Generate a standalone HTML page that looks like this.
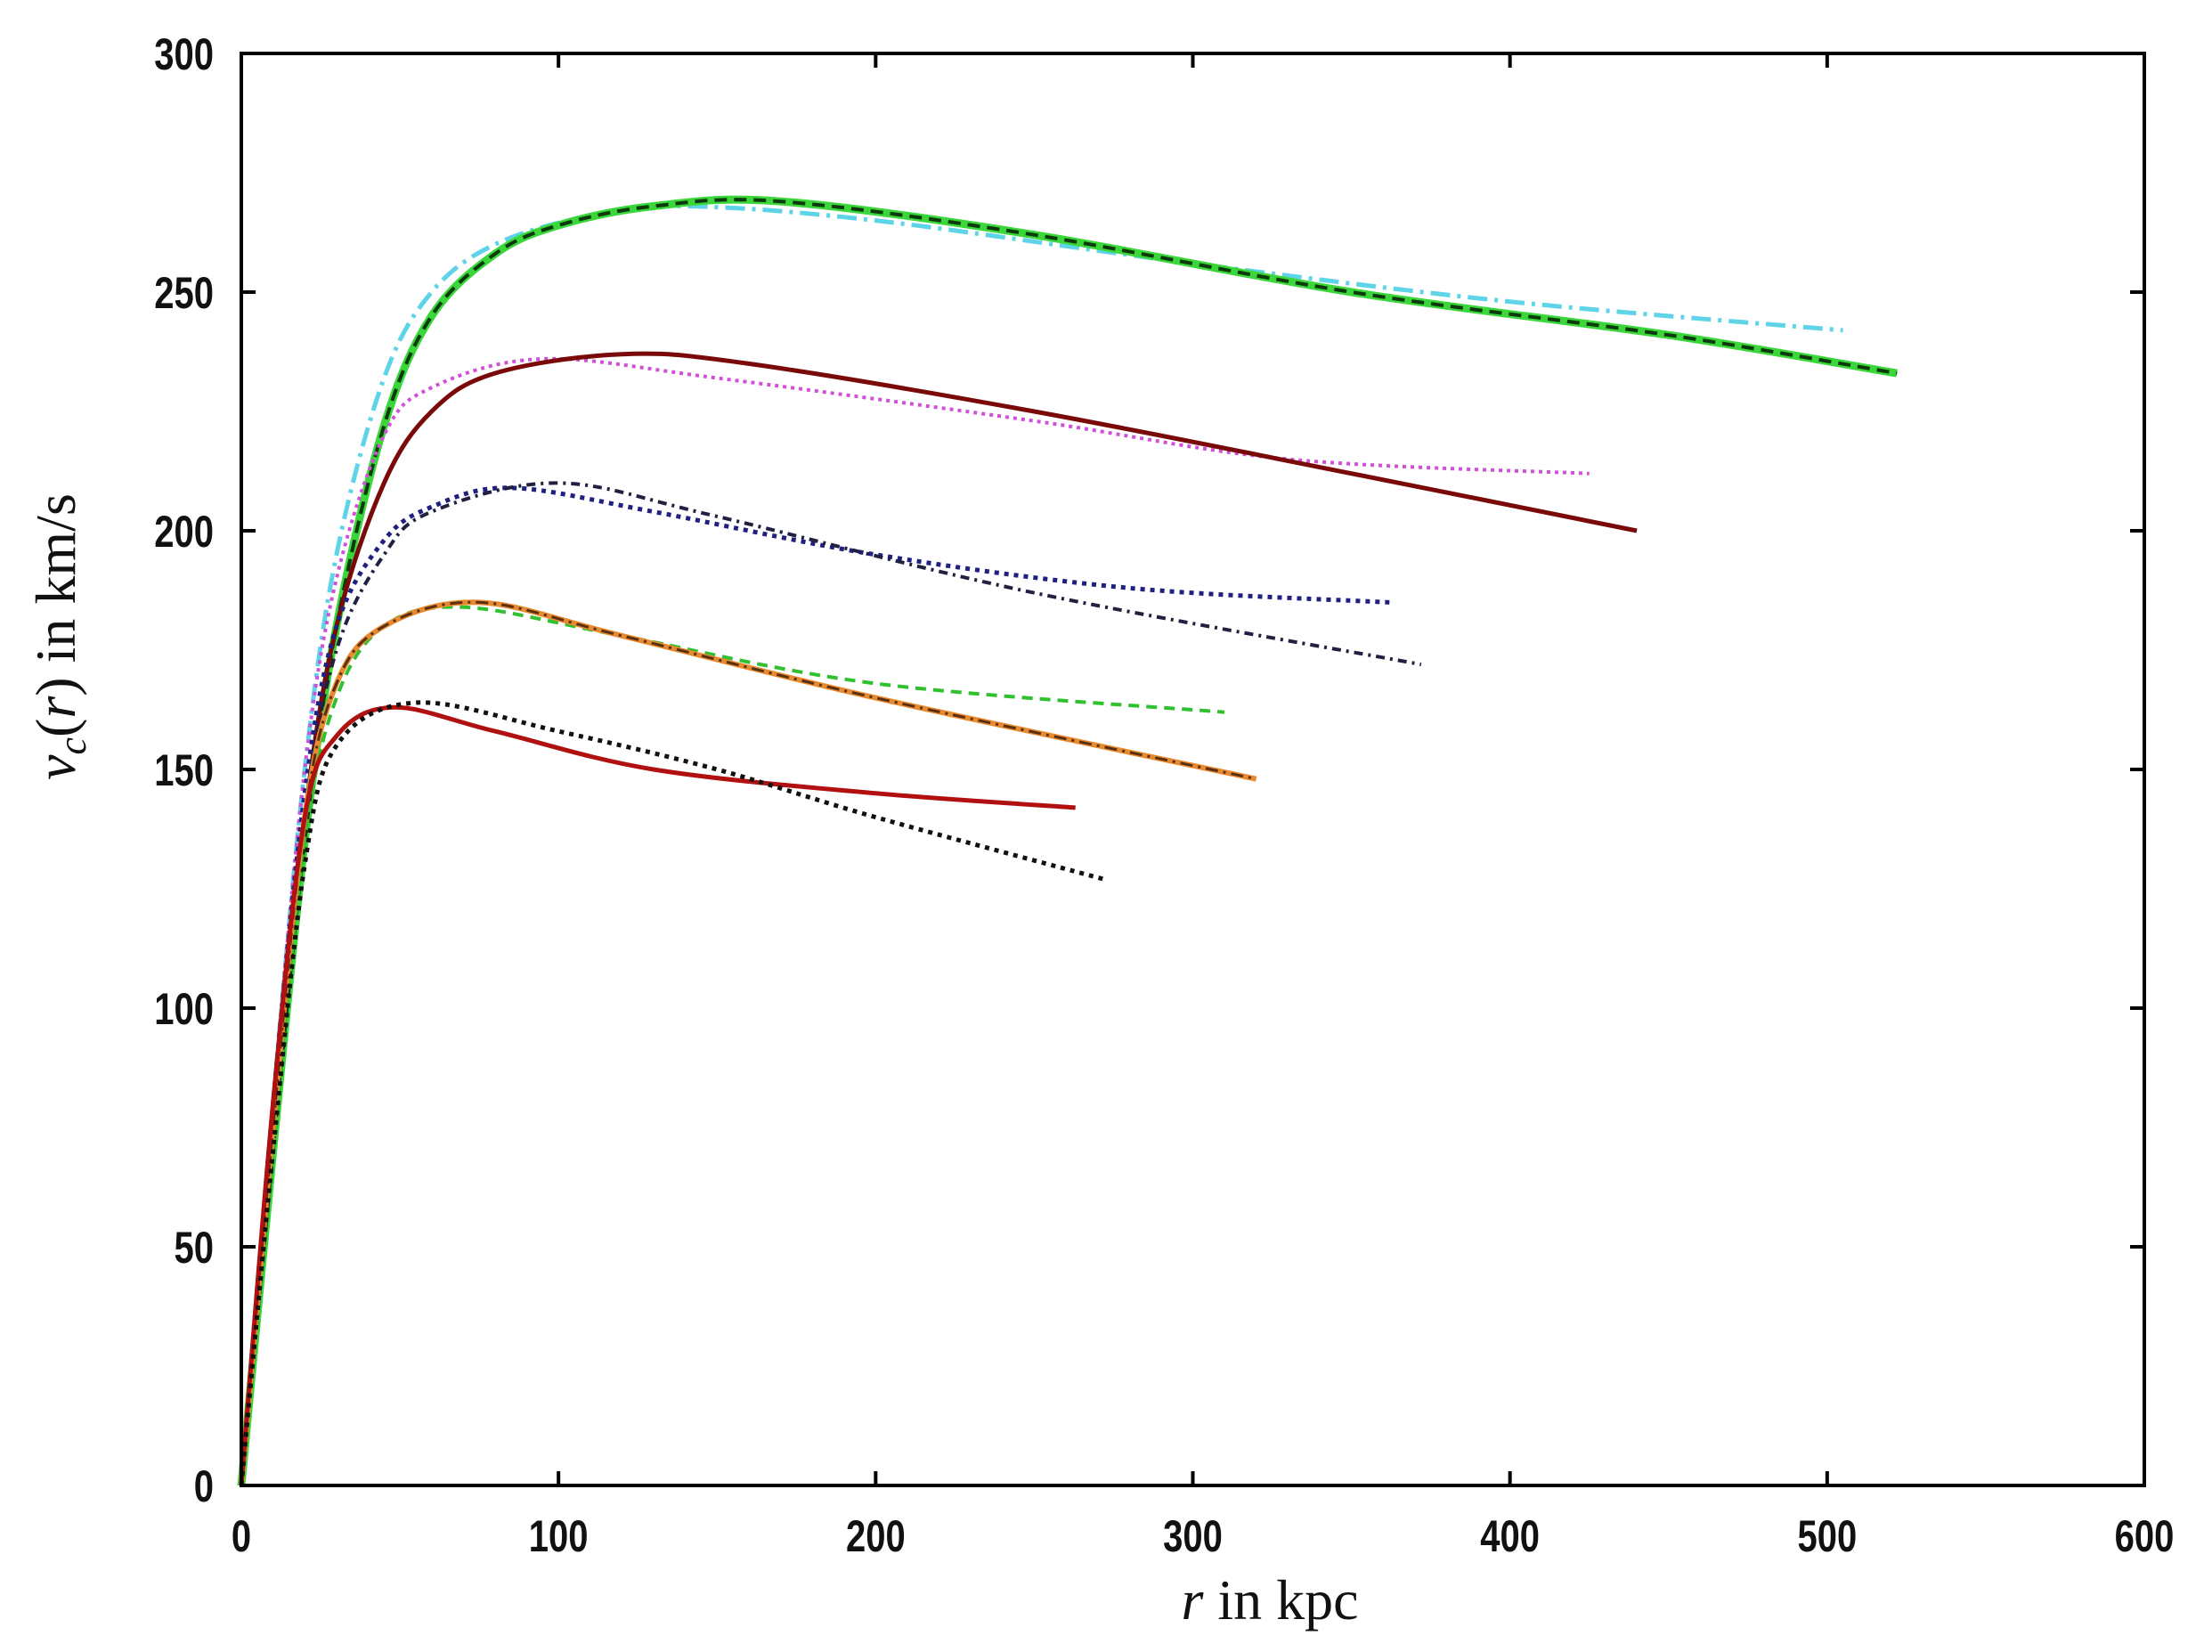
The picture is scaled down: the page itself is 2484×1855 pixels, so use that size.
<!DOCTYPE html>
<html><head><meta charset="utf-8"><style>
html,body{margin:0;padding:0;background:#fff;}
svg{display:block;}
.t{font-family:"Liberation Sans",sans-serif;font-size:50px;font-weight:bold;fill:#111;}
</style></head><body>
<svg id="s" width="2484" height="1855" viewBox="0 0 2484 1855" xmlns="http://www.w3.org/2000/svg">
<rect width="2484" height="1855" fill="#fff"/>
<g id="curves" fill="none" stroke-linecap="butt"></g>
<rect x="271" y="60" width="2137" height="1608" fill="none" stroke="#000" stroke-width="4"/>
<g id="ticks" stroke="#000" stroke-width="4"></g>
<g id="labels"></g>
<text x="1426" y="1818" text-anchor="middle" font-family="Liberation Serif, serif" font-size="64" fill="#111"><tspan font-style="italic">r</tspan> in kpc</text>
<text transform="translate(84,715) rotate(-90)" text-anchor="middle" font-family="Liberation Serif, serif" font-size="64" fill="#111"><tspan font-style="italic">v</tspan><tspan font-style="italic" font-size="44" dy="12">c</tspan><tspan dy="-12">(</tspan><tspan font-style="italic">r</tspan>) in km/s</text>
</svg>
<script>
var L=271,R=2408,T=60,B=1668;
function X(r){return L+r*(R-L)/600;}
function Y(v){return B-v*(B-T)/300;}
var ns="http://www.w3.org/2000/svg";
var tk=document.getElementById("ticks"),lb=document.getElementById("labels");
function el(p,tag,a,txt){var e=document.createElementNS(ns,tag);for(var k in a)e.setAttribute(k,a[k]);if(txt)e.textContent=txt;p.appendChild(e);return e;}
for(var i=0;i<=6;i++){var x=X(i*100);
 el(tk,"line",{x1:x,y1:B,x2:x,y2:B-16});el(tk,"line",{x1:x,y1:T,x2:x,y2:T+16});
 el(lb,"text",{x:x,y:1742,"text-anchor":"middle","class":"t",transform:"translate("+x+",0) scale(0.8,1) translate("+(-x)+",0)"},String(i*100));}
for(var j=0;j<=6;j++){var y=Y(j*50);
 el(tk,"line",{x1:L,y1:y,x2:L+16,y2:y});el(tk,"line",{x1:R,y1:y,x2:R-16,y2:y});
 el(lb,"text",{x:240,y:y+18,"text-anchor":"end","class":"t",transform:"translate(240,0) scale(0.8,1) translate(-240,0)"},String(j*50));}
function path(pts){var p=pts.map(function(q){return [X(q[0]),Y(q[1])];});
 var d="M"+p[0][0]+","+p[0][1];
 for(var i=0;i<p.length-1;i++){var p0=p[Math.max(0,i-1)],p1=p[i],p2=p[i+1],p3=p[Math.min(p.length-1,i+2)];
  var c1=[p1[0]+(p2[0]-p0[0])/6,p1[1]+(p2[1]-p0[1])/6],c2=[p2[0]-(p3[0]-p1[0])/6,p2[1]-(p3[1]-p1[1])/6];
  d+=" C"+c1[0].toFixed(1)+","+c1[1].toFixed(1)+" "+c2[0].toFixed(1)+","+c2[1].toFixed(1)+" "+p2[0].toFixed(1)+","+p2[1].toFixed(1);}
 return d;}
var C=[
 [[[0,0],[10,80],[20,150],[30,195],[45,232],[60,250],[80,260],[110,266],[140,268],[200,265],[300,256],[400,248],[505,242]],"#5fd4e8",5,"22,8,4,8"],
 [[[0,0],[10,70],[20,135],[30,180],[45,222],[60,245],[80,258],[100,264],[130,268],[170,269],[250,262],[350,250],[450,241],[522,233]],"#3ad63a",9,""],
 [[[0,0],[10,70],[20,135],[30,180],[45,222],[60,245],[80,258],[100,264],[130,268],[170,269],[250,262],[350,250],[450,241],[522,233]],"#0b3a0b",4,"14,8"],
 [[[0,0],[10,80],[20,150],[30,190],[45,220],[60,230],[95,236],[150,232],[250,223],[330,215],[425,212]],"#d050d8",4,"4,5"],
 [[[0,0],[10,75],[20,140],[30,180],[45,210],[60,225],[80,233],[120,237],[160,235],[250,225],[350,212],[440,200]],"#7a0a0a",5,""],
 [[[0,0],[10,80],[20,145],[30,180],[45,198],[60,205],[85,209],[130,204],[200,195],[280,188],[362,185]],"#202080",5,"5,6"],
 [[[0,0],[10,70],[20,140],[30,175],[45,195],[60,204],[100,210],[150,203],[250,187],[372,172]],"#202040",4,"10,6,3,6"],
 [[[0,0],[10,70],[20,135],[30,165],[45,180],[70,184],[120,178],[200,168],[310,162]],"#30c030",4,"12,8"],
 [[[0,0],[10,75],[20,140],[30,168],[45,180],[75,185],[120,178],[200,165],[320,148]],"#e88a30",6,""],
 [[[0,0],[10,75],[20,140],[30,168],[45,180],[75,185],[120,178],[200,165],[320,148]],"#5a3010",3,"14,6,3,6"],
 [[[0,0],[10,80],[20,140],[30,157],[48,163],[80,158],[130,150],[200,145],[263,142]],"#b01010",5,""],
 [[[0,0],[10,70],[20,130],[30,155],[55,164],[100,158],[150,150],[200,140],[272,127]],"#111",5,"5,6"]
];
var g=document.getElementById("curves");
C.forEach(function(c){var a={d:path(c[0]),stroke:c[1],"stroke-width":c[2]};if(c[3])a["stroke-dasharray"]=c[3];el(g,"path",a);});
</script>
</body></html>
